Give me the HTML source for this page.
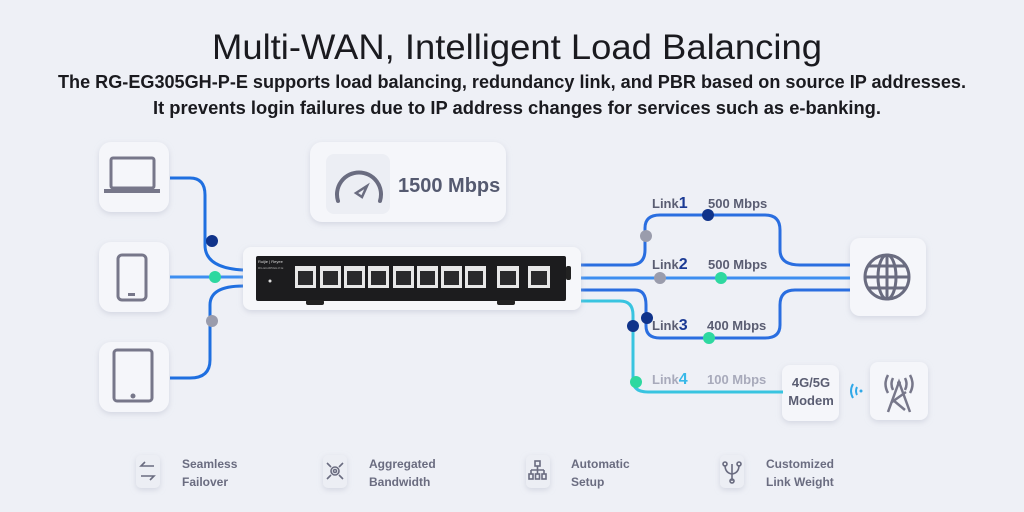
<!DOCTYPE html>
<html><head><meta charset="utf-8"><style>
html,body{margin:0;padding:0;background:#eef0f6;}
svg{display:block;font-family:"Liberation Sans",sans-serif;}
</style></head><body>
<svg width="1024" height="512" viewBox="0 0 1024 512" xmlns="http://www.w3.org/2000/svg">
<defs>
<filter id="sh" x="-20%" y="-20%" width="140%" height="140%"><feDropShadow dx="0" dy="2" stdDeviation="3" flood-color="#b8bccc" flood-opacity="0.5"/></filter>
</defs>
<rect width="1024" height="512" fill="#eef0f6"/>
<text x="517" y="59" text-anchor="middle" font-size="35" fill="#1a1a1f" textLength="610" lengthAdjust="spacingAndGlyphs">Multi-WAN, Intelligent Load Balancing</text>
<text x="512" y="88" text-anchor="middle" font-size="18" font-weight="bold" fill="#1a1a1f" textLength="908" lengthAdjust="spacingAndGlyphs">The RG-EG305GH-P-E supports load balancing, redundancy link, and PBR based on source IP addresses.</text>
<text x="517" y="114" text-anchor="middle" font-size="18" font-weight="bold" fill="#1a1a1f" textLength="728" lengthAdjust="spacingAndGlyphs">It prevents login failures due to IP address changes for services such as e-banking.</text>

<!-- device cards -->
<g filter="url(#sh)" fill="#f5f6fa">
<rect x="99" y="142" width="70" height="70" rx="12"/>
<rect x="99" y="242" width="70" height="70" rx="12"/>
<rect x="99" y="342" width="70" height="70" rx="12"/>
<rect x="310" y="142" width="196" height="80" rx="12"/>
<rect x="850" y="238" width="76" height="78" rx="10"/>
<rect x="782" y="365" width="57" height="56" rx="8"/>
<rect x="870" y="362" width="58" height="58" rx="8"/>
</g>
<rect x="326" y="154" width="64" height="60" rx="8" fill="#eceef4"/>
<!-- laptop -->
<rect x="111" y="158" width="43" height="30" rx="2" fill="none" stroke="#77778a" stroke-width="3"/>
<rect x="104" y="189" width="56" height="4" fill="#77778a"/>
<!-- phone -->
<rect x="118" y="255" width="28" height="45" rx="4" fill="none" stroke="#77778a" stroke-width="3"/>
<rect x="128" y="293" width="7" height="3" fill="#77778a"/>
<!-- tablet -->
<rect x="114" y="350" width="38" height="51" rx="3" fill="none" stroke="#77778a" stroke-width="3"/>
<circle cx="133" cy="396" r="2.5" fill="#77778a"/>
<!-- speedometer -->
<path d="M338 201 A22 22 0 1 1 380 201" fill="none" stroke="#6a6c80" stroke-width="4" stroke-linecap="round"/>
<path d="M356 193 L367 186 L362 197 Z" fill="none" stroke="#6a6c80" stroke-width="2.5"/>
<text x="398" y="192" font-size="20" font-weight="bold" fill="#555a70">1500 Mbps</text>

<!-- left lines -->
<g fill="none" stroke-width="3">
<path d="M170 178 H190 Q205 178 205 195 V245 Q205 268 243 270" stroke="#1f6fe0"/>
<path d="M170 277 H243" stroke="#3d8ef0"/>
<path d="M170 378 H190 Q210 378 210 360 V305 Q210 286 243 286" stroke="#1f6fe0"/>
</g>
<circle cx="212" cy="241" r="6" fill="#10338a"/>
<circle cx="215" cy="277" r="6" fill="#2ed8a0"/>
<circle cx="212" cy="321" r="6" fill="#9a9cac"/>

<!-- right lines -->
<g fill="none" stroke-width="3">
<path d="M580 265 H630 Q645 265 645 250 V228 Q645 215 660 215 H765 Q780 215 780 230 V250 Q780 265 800 265 H850" stroke="#2a6ee0"/>
<path d="M580 278 H850" stroke="#3d8ef0"/>
<path d="M580 290 H635 Q646 290 646 305 V326 Q646 338 660 338 H765 Q780 338 780 325 V305 Q780 290 795 290 H850" stroke="#2a6ee0"/>
<path d="M580 301 H620 Q633 301 633 315 V380 Q633 392 648 392 H783" stroke="#38c4e0"/>
</g>
<circle cx="646" cy="236" r="6" fill="#9a9cac"/>
<circle cx="708" cy="215" r="6" fill="#10338a"/>
<circle cx="660" cy="278" r="6" fill="#9a9cac"/>
<circle cx="721" cy="278" r="6" fill="#2ed8a0"/>
<circle cx="647" cy="318" r="6" fill="#10338a"/>
<circle cx="633" cy="326" r="6" fill="#10338a"/>
<circle cx="709" cy="338" r="6" fill="#2ed8a0"/>
<circle cx="636" cy="382" r="6" fill="#2ed8a0"/>

<g font-size="13" font-weight="bold" fill="#5a5d72">
<text x="652" y="208">Link<tspan font-size="16" fill="#1b3a94">1</tspan></text>
<text x="708" y="208">500 Mbps</text>
<text x="652" y="269">Link<tspan font-size="16" fill="#1b3a94">2</tspan></text>
<text x="708" y="269">500 Mbps</text>
<text x="652" y="330">Link<tspan font-size="16" fill="#1b3a94">3</tspan></text>
<text x="707" y="330">400 Mbps</text>
</g>
<g font-size="13" font-weight="bold" fill="#a8aabb">
<text x="652" y="384">Link<tspan font-size="16" fill="#38b8e8">4</tspan></text>
<text x="707" y="384">100 Mbps</text>
</g>
<text x="811" y="387" text-anchor="middle" font-size="13" font-weight="bold" fill="#5a5d72">4G/5G</text>
<text x="811" y="405" text-anchor="middle" font-size="13" font-weight="bold" fill="#5a5d72">Modem</text>
<path d="M853 384 Q849 391 853 398 M857 387 Q855 391 857 395" fill="none" stroke="#30a8e8" stroke-width="2"/>
<circle cx="861" cy="391" r="1.5" fill="#30a8e8"/>
<!-- tower -->
<g fill="none" stroke="#77778a" stroke-width="2.5">
<path d="M888 412 L899 382 L910 412 M892 402 L906 392 M893 400 L905 410"/>
<path d="M893 378 Q890 384 893 390 M905 378 Q908 384 905 390 M888 375 Q883 384 888 393 M910 375 Q915 384 910 393"/>
</g>
<circle cx="899" cy="383" r="2" fill="#77778a"/>
<!-- globe -->
<g fill="none" stroke="#6a6c80" stroke-width="3">
<circle cx="887" cy="277" r="22"/>
<ellipse cx="887" cy="277" rx="9" ry="22"/>
<path d="M865 277 H909 M868 266 H906 M868 288 H906 M887 255 V299"/>
</g>

<!-- router -->
<rect x="243" y="247" width="338" height="63" rx="8" fill="#f6f7fa" filter="url(#sh)"/>
<rect x="256" y="256" width="310" height="45" rx="2" fill="#1c1c1e"/>
<rect x="306" y="300" width="18" height="5" rx="2" fill="#222"/>
<rect x="497" y="300" width="18" height="5" rx="2" fill="#222"/>
<rect x="566" y="266" width="5" height="14" rx="2" fill="#222"/>
<text x="258" y="263" font-size="4" fill="#ddd">Ruijie | Reyee</text>
<text x="258" y="269" font-size="3" fill="#aaa">RG-EG305GH-P-E</text>
<circle cx="270" cy="281" r="1.5" fill="#ddd"/>
<g fill="#e8e8e8">
<rect x="295" y="266" width="21" height="22"/><rect x="320" y="266" width="21" height="22"/>
<rect x="344" y="266" width="21" height="22"/><rect x="368" y="266" width="21" height="22"/>
<rect x="393" y="266" width="21" height="22"/><rect x="417" y="266" width="21" height="22"/>
<rect x="441" y="266" width="21" height="22"/><rect x="465" y="266" width="21" height="22"/>
<rect x="497" y="266" width="22" height="22"/><rect x="528" y="266" width="22" height="22"/>
</g>
<g fill="#2a2a2c">
<rect x="298" y="271" width="15" height="14"/><rect x="323" y="271" width="15" height="14"/>
<rect x="347" y="271" width="15" height="14"/><rect x="371" y="271" width="15" height="14"/>
<rect x="396" y="271" width="15" height="14"/><rect x="420" y="271" width="15" height="14"/>
<rect x="444" y="271" width="15" height="14"/><rect x="468" y="271" width="15" height="14"/>
<rect x="500" y="271" width="16" height="14"/><rect x="531" y="271" width="16" height="14"/>
</g>

<!-- features -->
<g fill="#eceef4" filter="url(#sh)">
<rect x="136" y="455" width="24" height="33" rx="5"/>
<rect x="323" y="455" width="24" height="33" rx="5"/>
<rect x="526" y="455" width="24" height="33" rx="5"/>
<rect x="720" y="455" width="24" height="33" rx="5"/>
</g>
<g fill="none" stroke="#6a6c80" stroke-width="1.6">
<path d="M154 466 H141 L145 462 M141 476 H154 L150 480"/>
<circle cx="335" cy="471" r="4"/><circle cx="335" cy="471" r="1.5"/>
<path d="M327 463 L331 467 M343 463 L339 467 M327 479 L331 475 M343 479 L339 475"/>
<rect x="535" y="461" width="5" height="5"/><path d="M537.5 466 V470 M531 470 H544 M531 470 V474 M537.5 470 V474 M544 470 V474"/>
<rect x="529" y="474" width="4" height="5"/><rect x="535.5" y="474" width="4" height="5"/><rect x="542" y="474" width="4" height="5"/>
<path d="M732 464 V481 M725 465 Q725 473 732 474 Q739 473 739 465"/>
<circle cx="725" cy="464" r="2"/><circle cx="739" cy="464" r="2"/><circle cx="732" cy="481" r="2"/>
</g>
<g font-size="12" font-weight="bold" fill="#6a6c80">
<text x="182" y="468">Seamless</text><text x="182" y="486">Failover</text>
<text x="369" y="468">Aggregated</text><text x="369" y="486">Bandwidth</text>
<text x="571" y="468">Automatic</text><text x="571" y="486">Setup</text>
<text x="766" y="468">Customized</text><text x="766" y="486">Link Weight</text>
</g>
</svg>
</body></html>
